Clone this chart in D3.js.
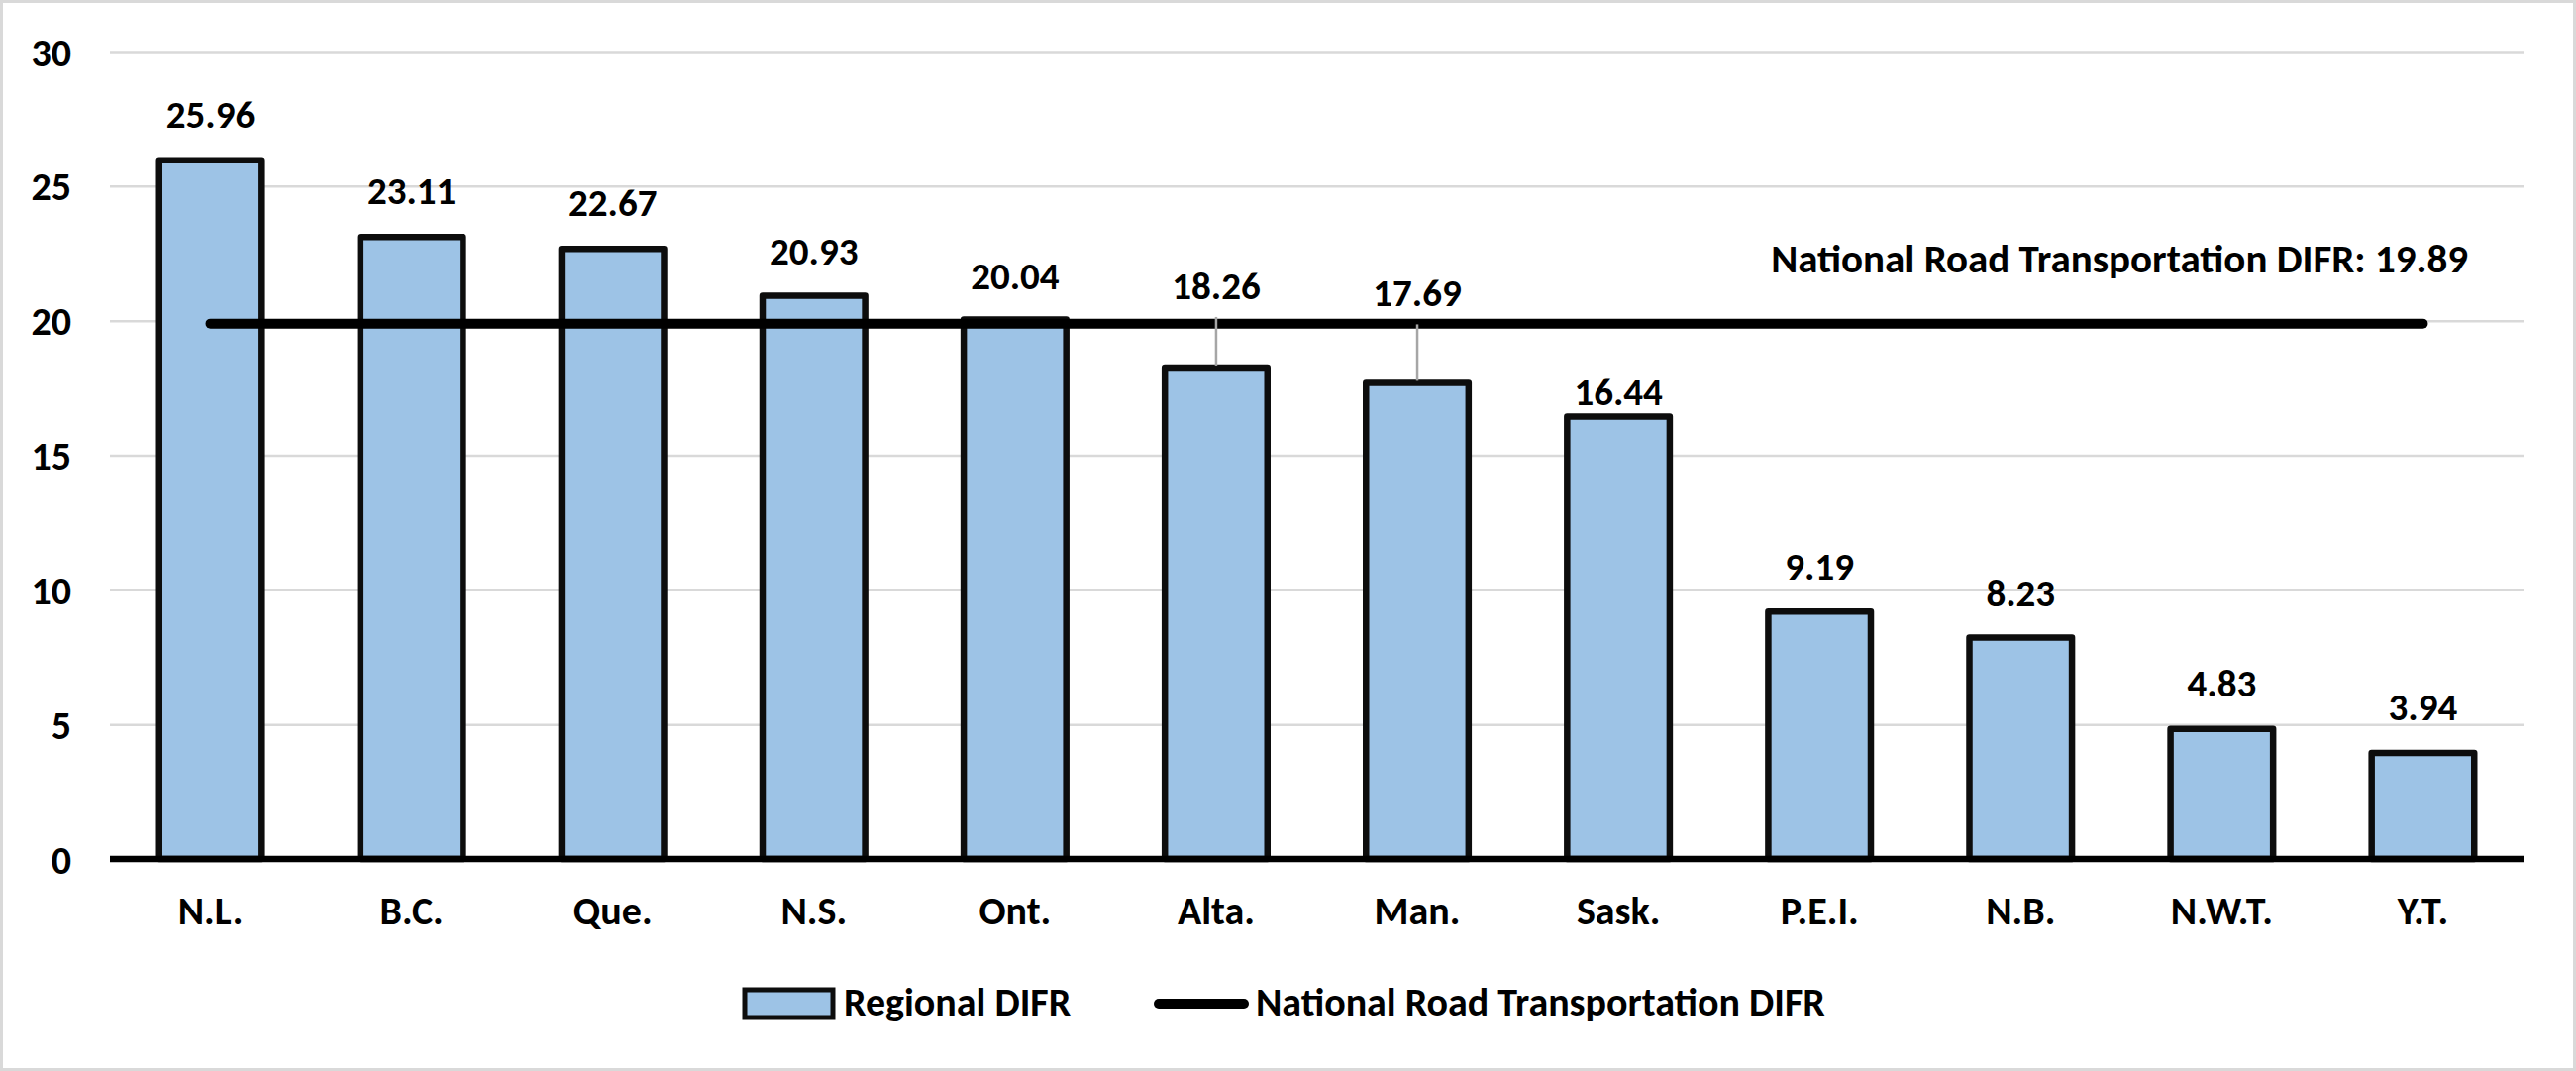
<!DOCTYPE html>
<html>
<head>
<meta charset="utf-8">
<script src="https://cdn.jsdelivr.net/npm/d3@7/dist/d3.min.js"></script>
<style>
  html, body { margin: 0; padding: 0; background: #fff; }
  svg { display: block; }
  text { font-family: Carlito, "Open Sans", "Noto Sans", sans-serif; font-weight: 700; fill: #000; }
</style>
</head>
<body>
<svg id="chart" width="2601" height="1081"></svg>
<script>
// ---- data ----
const categories = ["N.L.", "B.C.", "Que.", "N.S.", "Ont.", "Alta.", "Man.", "Sask.", "P.E.I.", "N.B.", "N.W.T.", "Y.T."];
const regionalDIFR = [25.96, 23.11, 22.67, 20.93, 20.04, 18.26, 17.69, 16.44, 9.19, 8.23, 4.83, 3.94];
const nationalDIFR = 19.89;
const yTicks = [0, 5, 10, 15, 20, 25, 30];
const seriesNames = ["Regional DIFR", "National Road Transportation DIFR"];
const nationalLabel = "National Road Transportation DIFR: 19.89";

// ---- layout (label lift above bar top, px) ----
const labelLift = [33, 33, 33, 31, 31, 69, 77, 11, 32, 31, 33, 33];
const leader = [false, false, false, false, false, true, true, false, false, false, false, false];

const W = 2601, H = 1081;
const FS = 40;
const plot = { left: 111, right: 2548, top: 52, bottom: 867 };
const svg = d3.select("#chart");

// outer border
svg.append("rect").attr("x", 1.5).attr("y", 1.5).attr("width", W - 3).attr("height", H - 3)
  .attr("fill", "#fff").attr("stroke", "#d9d9d9").attr("stroke-width", 3);

const x = d3.scaleBand().domain(categories).range([plot.left, plot.right])
  .paddingInner(0.49).paddingOuter(0.245);
const y = d3.scaleLinear().domain([0, 30]).range([plot.bottom, plot.top]);

// y axis with gridlines
const yAxis = svg.append("g").attr("transform", `translate(${plot.left},0)`)
  .call(d3.axisLeft(y).tickValues(yTicks).tickSize(-(plot.right - plot.left)).tickPadding(39).tickFormat(d3.format("d")));
yAxis.select(".domain").remove();
yAxis.selectAll(".tick line").attr("stroke", "#d9d9d9").attr("stroke-width", 2.5);
yAxis.selectAll(".tick text").attr("font-size", FS).attr("dy", "0.35em")
  .style("font-family", 'Carlito, "Open Sans", "Noto Sans", sans-serif').style("font-weight", 700).attr("fill", "#000");

// bars
svg.append("g").selectAll("rect").data(regionalDIFR).join("rect")
  .attr("x", (d, i) => x(categories[i]))
  .attr("y", d => y(d))
  .attr("width", x.bandwidth())
  .attr("height", d => y(0) - y(d))
  .attr("fill", "#9dc3e6")
  .attr("stroke", "#0d0d0d")
  .attr("stroke-width", 6.5)
  .attr("stroke-linejoin", "round");

// x axis
const xAxis = svg.append("g").attr("transform", `translate(0,${plot.bottom})`)
  .call(d3.axisBottom(x).tickSize(0).tickPadding(38));
xAxis.select(".domain").remove();
xAxis.selectAll(".tick text").attr("font-size", FS)
  .style("font-family", 'Carlito, "Open Sans", "Noto Sans", sans-serif').style("font-weight", 700).attr("fill", "#000");

svg.append("line").attr("x1", plot.left).attr("x2", plot.right)
  .attr("y1", y(0)).attr("y2", y(0)).attr("stroke", "#000").attr("stroke-width", 6.5);

// national line
const cx = c => x(c) + x.bandwidth() / 2;
svg.append("line")
  .attr("x1", cx(categories[0])).attr("x2", cx(categories[categories.length - 1]))
  .attr("y1", y(nationalDIFR)).attr("y2", y(nationalDIFR))
  .attr("stroke", "#000").attr("stroke-width", 10).attr("stroke-linecap", "round");

svg.append("text").attr("x", 2492).attr("y", y(nationalDIFR) - 52)
  .attr("text-anchor", "end").attr("font-size", 41).text(nationalLabel);

// leader lines
regionalDIFR.forEach((d, i) => {
  if (!leader[i]) return;
  svg.append("line").attr("x1", cx(categories[i])).attr("x2", cx(categories[i]))
    .attr("y1", y(d) - labelLift[i] + 18).attr("y2", y(d) - 2)
    .attr("stroke", "#a6a6a6").attr("stroke-width", 2.5);
});

// data labels
svg.append("g").selectAll("text").data(regionalDIFR).join("text")
  .attr("x", (d, i) => cx(categories[i]))
  .attr("y", (d, i) => y(d) - labelLift[i])
  .attr("text-anchor", "middle").attr("font-size", 39)
  .text(d => d3.format(".2f")(d));

// legend
const lg = svg.append("g");
lg.append("rect").attr("x", 752).attr("y", 999).attr("width", 89).attr("height", 28)
  .attr("fill", "#9dc3e6").attr("stroke", "#0d0d0d").attr("stroke-width", 5);
lg.append("text").attr("x", 852).attr("y", 1025).attr("font-size", FS).text(seriesNames[0]);
lg.append("line").attr("x1", 1170).attr("x2", 1256).attr("y1", 1013).attr("y2", 1013)
  .attr("stroke", "#000").attr("stroke-width", 10).attr("stroke-linecap", "round");
lg.append("text").attr("x", 1268).attr("y", 1025).attr("font-size", FS).text(seriesNames[1]);
</script>
</body>
</html>
